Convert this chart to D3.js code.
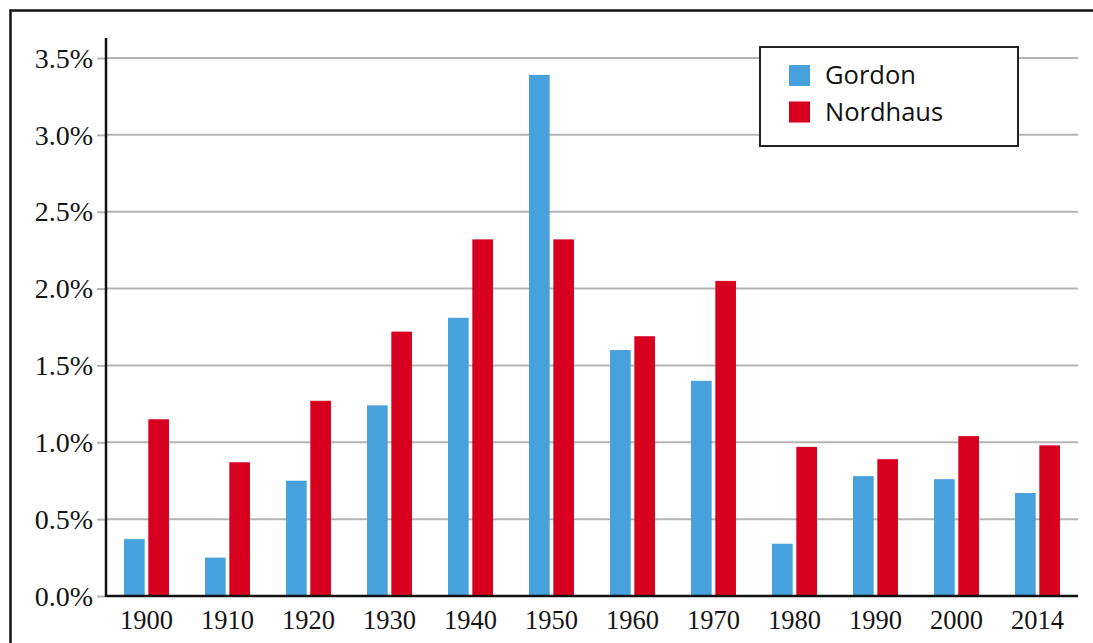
<!DOCTYPE html>
<html lang="en">
<head>
  <meta charset="UTF-8">
  <title>Gordon vs Nordhaus</title>
  <script src="https://d3js.org/d3.v7.min.js"></script>
  <style>
    body,
    html {
      margin: 0;
      padding: 0;
      background: #fff;
      overflow: hidden;
    }

    svg {
      display: block;
    }

    .ylabel,
    .xlabel {
      font-family: "Liberation Serif", "Times New Roman", serif;
      fill: #151515;
    }

    .legend-text {
      font-family: "Open Sans", "Noto Sans", sans-serif;
      fill: #111;
    }
  </style>
</head>
<body>
  <svg id="chart"></svg>

  <script>
    // Data
    const decades = ["1900", "1910", "1920", "1930", "1940", "1950", "1960", "1970", "1980", "1990", "2000", "2014"];
    const gordon = [0.37, 0.25, 0.75, 1.24, 1.81, 3.39, 1.6, 1.4, 0.34, 0.78, 0.76, 0.67];
    const nordhaus = [1.15, 0.87, 1.27, 1.72, 2.32, 2.32, 1.69, 2.05, 0.97, 0.89, 1.04, 0.98];
    const seriesNames = ["Gordon", "Nordhaus"];
    const yTicks = [0, 0.5, 1.0, 1.5, 2.0, 2.5, 3.0, 3.5];

    const colors = {
      Gordon: "#46a1dc",
      Nordhaus: "#d8001f",
    };

    const width = 1093;
    const height = 643;
    const plotLeft = 106;
    const plotRight = 1078;
    const plotTop = 58;
    const plotBottom = 596;

    const svg = d3.select("#chart")
      .attr("width", width)
      .attr("height", height);

    // outer frame (only left and top edges are visible in the picture)
    svg.append("path")
      .attr("d", `M10.5,${height + 5} L10.5,10.5 L${width + 5},10.5`)
      .attr("fill", "none")
      .attr("stroke", "#111")
      .attr("stroke-width", 2.5);

    const x0 = d3.scaleBand()
      .domain(decades)
      .range([plotLeft, plotRight])
      .paddingInner(0.445)
      .paddingOuter(0.2225);

    const x1 = d3.scaleBand()
      .domain(seriesNames)
      .range([0, x0.bandwidth()])
      .paddingInner(0.15);

    const y = d3.scaleLinear()
      .domain([0, 3.5])
      .range([plotBottom, plotTop]);

    // gridlines
    svg.append("g")
      .selectAll("line")
      .data(yTicks.filter(d => d > 0))
      .join("line")
      .attr("x1", plotLeft)
      .attr("x2", plotRight)
      .attr("y1", d => y(d))
      .attr("y2", d => y(d))
      .attr("stroke", "#b4b4b4")
      .attr("stroke-width", 2);

    // y axis with tick labels
    const yAxis = svg.append("g")
      .attr("transform", `translate(${plotLeft},0)`)
      .call(d3.axisLeft(y)
        .tickValues(yTicks)
        .tickSize(9)
        .tickPadding(4)
        .tickFormat(d => d.toFixed(1) + "%"));

    yAxis.select(".domain").remove();
    yAxis.selectAll(".tick line")
      .attr("stroke", "#b4b4b4")
      .attr("stroke-width", 2);
    yAxis.selectAll(".tick text")
      .attr("class", "ylabel")
      .attr("font-size", 28)
      .attr("dy", "0.33em");

    // bars
    const rows = decades.map((d, i) => ({
      decade: d,
      values: [
        { key: "Gordon", value: gordon[i] },
        { key: "Nordhaus", value: nordhaus[i] },
      ],
    }));

    svg.append("g")
      .selectAll("g")
      .data(rows)
      .join("g")
      .attr("transform", d => `translate(${x0(d.decade)},0)`)
      .selectAll("rect")
      .data(d => d.values)
      .join("rect")
      .attr("x", d => x1(d.key))
      .attr("width", x1.bandwidth())
      .attr("y", d => y(d.value))
      .attr("height", d => y(0) - y(d.value))
      .attr("fill", d => colors[d.key]);

    // axis lines
    svg.append("line")
      .attr("x1", plotLeft)
      .attr("x2", plotLeft)
      .attr("y1", 38)
      .attr("y2", plotBottom + 1)
      .attr("stroke", "#111")
      .attr("stroke-width", 2.5);

    svg.append("line")
      .attr("x1", plotLeft)
      .attr("x2", plotRight)
      .attr("y1", plotBottom)
      .attr("y2", plotBottom)
      .attr("stroke", "#111")
      .attr("stroke-width", 2.5);

    // x labels
    svg.append("g")
      .selectAll("text")
      .data(decades)
      .join("text")
      .attr("class", "xlabel")
      .attr("x", d => x0(d) + x0.bandwidth() / 2)
      .attr("y", 629)
      .attr("text-anchor", "middle")
      .attr("font-size", 26.5)
      .text(d => d);

    // legend
    const legend = svg.append("g");

    legend.append("rect")
      .attr("x", 760)
      .attr("y", 47)
      .attr("width", 258)
      .attr("height", 99)
      .attr("fill", "#fff")
      .attr("stroke", "#222")
      .attr("stroke-width", 2);

    seriesNames.forEach((name, i) => {
      legend.append("rect")
        .attr("x", 789)
        .attr("y", 65 + i * 36.5)
        .attr("width", 21)
        .attr("height", 21)
        .attr("fill", colors[name]);

      legend.append("text")
        .attr("class", "legend-text")
        .attr("x", 825)
        .attr("y", 84 + i * 37)
        .attr("font-size", 25.5)
        .text(name);
    });
  </script>
</body>
</html>
